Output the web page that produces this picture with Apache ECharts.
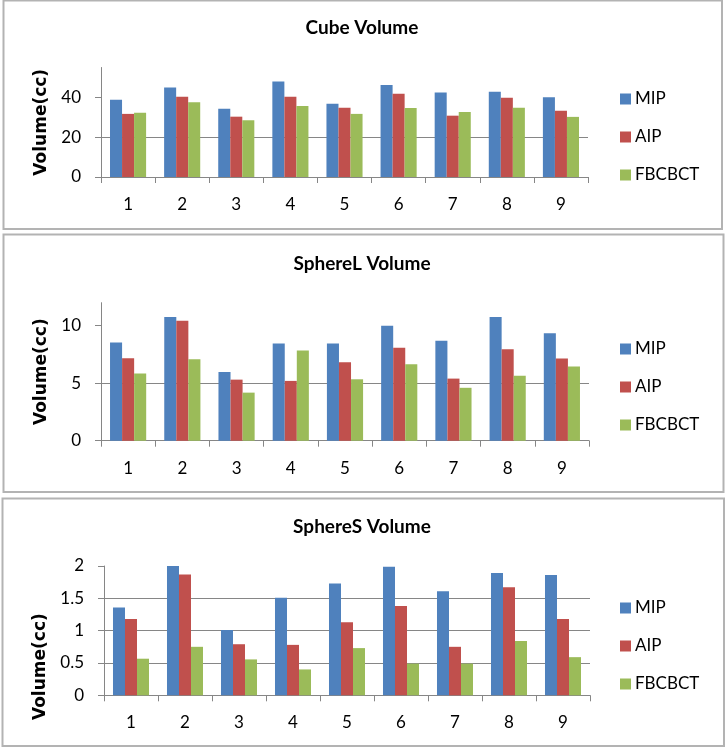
<!DOCTYPE html>
<html>
<head>
<meta charset="utf-8">
<script src="https://cdn.jsdelivr.net/npm/echarts@6/dist/echarts.min.js"></script>
<style>
html,body{margin:0;padding:0;background:#fff;}
#chart{width:726px;height:749px;}
</style>
</head>
<body>
<div id="chart"></div>
<script>
const categories = ['1','2','3','4','5','6','7','8','9'];
const seriesNames = ['MIP','AIP','FBCBCT'];

const cubeMIP = [38.8, 45.0, 34.3, 48.0, 36.8, 46.2, 42.5, 42.8, 40.0];
const cubeAIP = [31.7, 40.3, 30.3, 40.3, 34.8, 41.8, 30.8, 39.8, 33.3];
const cubeFB  = [32.3, 37.5, 28.5, 35.7, 31.7, 34.7, 32.7, 34.8, 30.2];

const sphLMIP = [8.55, 10.75, 5.97, 8.45, 8.45, 10.0, 8.7, 10.75, 9.34];
const sphLAIP = [7.17, 10.42, 5.31, 5.2, 6.82, 8.09, 5.4, 7.95, 7.14];
const sphLFB  = [5.85, 7.08, 4.18, 7.84, 5.34, 6.65, 4.6, 5.64, 6.45];

const sphSMIP = [1.36, 2.0, 1.01, 1.51, 1.73, 1.99, 1.61, 1.89, 1.86];
const sphSAIP = [1.18, 1.87, 0.79, 0.78, 1.13, 1.38, 0.75, 1.67, 1.18];
const sphSFB  = [0.566, 0.75, 0.555, 0.40, 0.73, 0.49, 0.49, 0.84, 0.59];

const cubeTicks = [0, 20, 40];
const sphLTicks = [0, 5, 10];
const sphSTicks = [0, 0.5, 1, 1.5, 2];

const titles = ['Cube Volume', 'SphereL Volume', 'SphereS Volume'];
const yName = 'Volume(cc)';

const colors = ['#4F81BD', '#C0504D', '#9BBB59'];

const panels = [
  {data: [cubeMIP, cubeAIP, cubeFB], ticks: cubeTicks, max: 55, interval: 20,
   grid: {left: 101, top: 67.5, width: 487, height: 109.5},
   titleTop: 18, legendTop: 90, nameShift: 0,
   box: [3.5, 0.5, 718.5, 228.5]},
  {data: [sphLMIP, sphLAIP, sphLFB], ticks: sphLTicks, max: 12, interval: 5,
   grid: {left: 101, top: 302.7, width: 488, height: 138},
   titleTop: 254, legendTop: 340, nameShift: 0,
   box: [3.5, 234.5, 720, 257.5]},
  {data: [sphSMIP, sphSAIP, sphSFB], ticks: sphSTicks, max: 2, interval: 0.5,
   grid: {left: 104, top: 566, width: 486, height: 129.3},
   titleTop: 517, legendTop: 599, nameShift: 72,
   box: [2.5, 498.5, 721.5, 247.5]}
];

const font = 'Lato';
const option = {
  animation: false,
  backgroundColor: '#fff',
  color: colors,
  title: [], legend: [], grid: [], xAxis: [], yAxis: [], series: [],
  graphic: []
};

panels.forEach((p, i) => {
  option.graphic.push({
    type: 'rect', shape: {x: p.box[0], y: p.box[1], width: p.box[2], height: p.box[3]},
    style: {fill: 'none', stroke: '#b3b3b3', lineWidth: 2}, z: -1
  });
  option.title.push({
    text: titles[i], left: 362, top: p.titleTop, textAlign: 'center', padding: 0,
    textStyle: {fontFamily: font, fontWeight: 'bold', fontSize: 19, color: '#000'}
  });
  option.legend.push({
    data: seriesNames, orient: 'vertical', left: 620, top: p.legendTop, padding: 0,
    icon: 'rect', itemWidth: 11, itemHeight: 11, itemGap: 20,
    textStyle: {fontFamily: font, fontSize: 17, color: '#000', lineHeight: 18, padding: [0,0,0,-1]}
  });
  option.grid.push(Object.assign({containLabel: false}, p.grid));
  option.xAxis.push({
    type: 'category', gridIndex: i, data: categories,
    axisLine: {lineStyle: {color: '#868686', width: 1}},
    axisTick: {show: true, length: 6, lineStyle: {color: '#868686'}},
    axisLabel: {margin: 19, fontFamily: font, fontSize: 17, color: '#000'}
  });
  option.yAxis.push({
    type: 'value', gridIndex: i, min: 0, max: p.max, interval: p.interval,
    name: yName, nameLocation: 'middle', nameGap: 43,
    nameTextStyle: {fontFamily: 'DejaVu Sans', fontWeight: 'bold', fontSize: 17, color: '#000',
      padding: [0, p.nameShift, 0, 0]},
    axisLine: {show: true, lineStyle: {color: '#868686', width: 1}},
    axisTick: {show: true, length: 6, customValues: p.ticks, lineStyle: {color: '#868686'}},
    axisLabel: {margin: 20, customValues: p.ticks, fontFamily: font, fontSize: 17, color: '#000'},
    splitLine: {show: true, showMaxLine: false, lineStyle: {color: '#868686', width: 1}}
  });
  seriesNames.forEach((n, k) => {
    option.series.push({
      type: 'bar', name: n, xAxisIndex: i, yAxisIndex: i, data: p.data[k],
      barGap: '0%', barCategoryGap: '33.3%',
      itemStyle: {color: colors[k]}
    });
  });
});

const chart = echarts.init(document.getElementById('chart'), null, {renderer: 'canvas'});
chart.setOption(option);
</script>
</body>
</html>
